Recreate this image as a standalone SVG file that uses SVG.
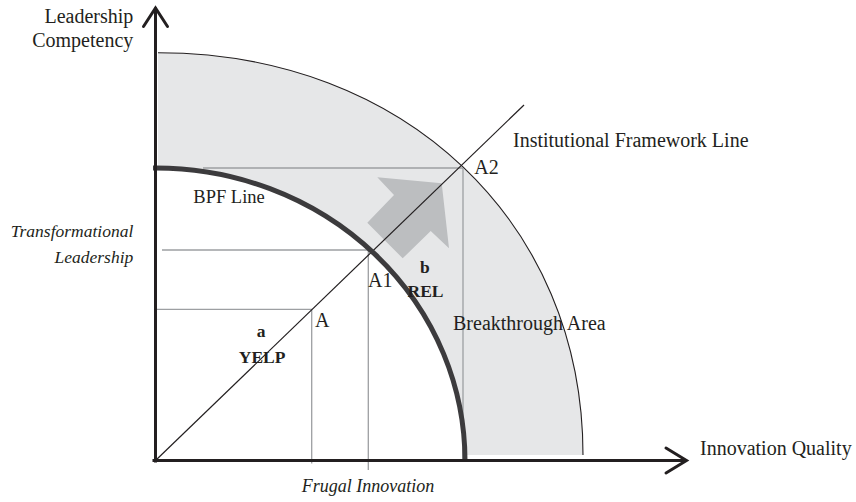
<svg xmlns="http://www.w3.org/2000/svg" width="856" height="502" viewBox="0 0 856 502">
<style>
text{font-family:"Liberation Serif","Times New Roman",serif;fill:#231f20;}
.lab{font-size:20px;}
.it{font-size:17.5px;font-style:italic;}
.bd{font-size:17.5px;font-weight:bold;}
.grid{stroke:#9d9fa2;stroke-width:1.3;fill:none;}
.axis{stroke:#231f20;stroke-width:3;fill:none;stroke-linecap:square;}
.head{stroke:#231f20;stroke-width:3;fill:none;stroke-linecap:round;stroke-linejoin:miter;}
</style>
<rect width="856" height="502" fill="#ffffff"/>
<g id="breakthrough-band">
<path d="M158,52.7 C404.5,52.7 583,223 583,455 L464.9,455 A309,293 0 0 0 156,168 L158,168 Z" fill="#e6e7e8"/>
<path d="M158,52.7 C404.5,52.7 583,223 583,455" fill="none" stroke="#231f20" stroke-width="1.1"/>
</g>
<g id="connectors">
<line class="grid" x1="203" y1="168" x2="463" y2="168"/>
<line class="grid" x1="463" y1="168" x2="463" y2="461"/>
<line class="grid" x1="162" y1="250" x2="370" y2="250"/>
<line class="grid" x1="368.3" y1="250" x2="368.3" y2="470"/>
<line class="grid" x1="156" y1="309.3" x2="312" y2="309.3"/>
<line class="grid" x1="311.7" y1="309.3" x2="311.7" y2="463.5"/>
<polygon id="shift-arrow" points="377.3,177.3 441.7,183.3 449,248.3 430.7,231 402.7,258.3 367.3,222.7 394,195" fill="#bcbec0"/>
<line id="institutional-line" x1="155" y1="461" x2="524" y2="105" stroke="#231f20" stroke-width="1.2"/>
</g>
<g id="bpf-line">
<path d="M153,168 L156,168 A309,293 0 0 1 465,462" fill="none" stroke="#3c3b3d" stroke-width="5"/>
</g>
<g id="axes">
<line class="axis" x1="155.5" y1="461" x2="155.5" y2="9"/>
<polyline class="head" points="143.5,26.5 155.5,8 167.5,26.5"/>
<line class="axis" x1="154" y1="460.5" x2="685" y2="460.5"/>
<polyline class="head" points="666,448 686.5,460.5 666,473"/>
</g>
<g id="y-axis-label">
<text class="lab" x="133.3" y="22.7" text-anchor="end">Leadership</text>
<text class="lab" x="133.3" y="46.7" text-anchor="end">Competency</text>
</g>
<g id="x-axis-label"><text class="lab" x="700" y="455">Innovation Quality</text></g>
<g id="transformational-label">
<text class="it" x="133.3" y="236.7" text-anchor="end">Transformational</text>
<text class="it" x="133.3" y="263.3" text-anchor="end">Leadership</text>
</g>
<g id="frugal-label"><text class="it" x="301.7" y="492.3" style="font-size:18px">Frugal Innovation</text></g>
<g id="institutional-label"><text class="lab" x="513" y="147">Institutional Framework Line</text></g>
<g id="bpf-label"><text class="lab" x="193.3" y="203.3" style="font-size:18.5px">BPF Line</text></g>
<g id="point-a2"><text class="lab" x="474.3" y="174">A2</text></g>
<g id="point-a1"><text class="lab" x="368" y="287.3">A1</text></g>
<g id="point-a"><text class="lab" x="315" y="327.3">A</text></g>
<g id="breakthrough-label"><text class="lab" x="453" y="330">Breakthrough Area</text></g>
<g id="rel-label">
<text class="bd" x="420" y="272.7">b</text>
<text class="bd" x="407.5" y="297.3">REL</text>
</g>
<g id="yelp-label">
<text class="bd" x="256.7" y="337.3">a</text>
<text class="bd" x="238.8" y="362.7">YELP</text>
</g>
</svg>
